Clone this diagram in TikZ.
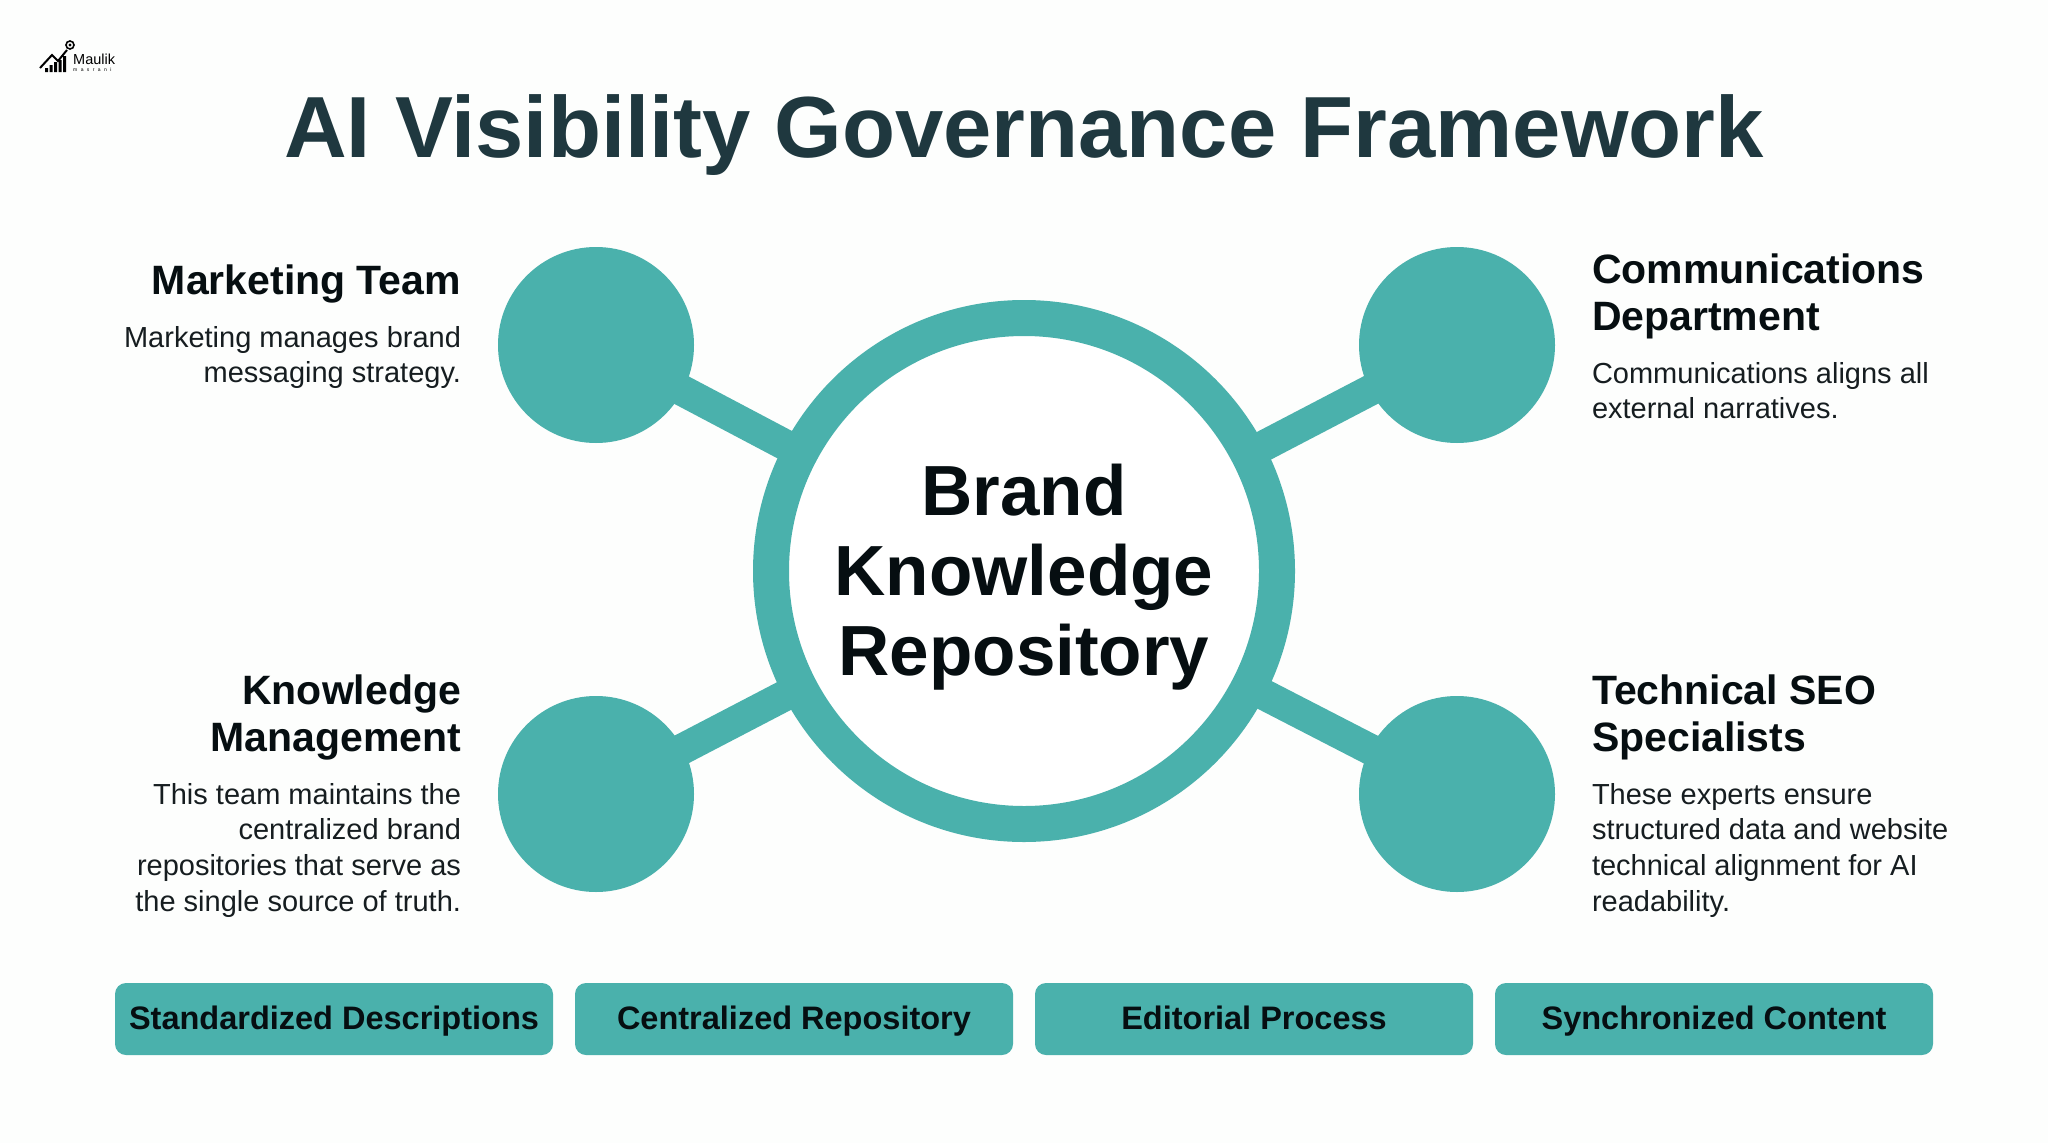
\documentclass[tikz,border=0pt]{standalone}
\usepackage{fontspec}
\setmainfont{Liberation Sans}
\definecolor{tealm}{HTML}{4AB1AC}
\definecolor{titlec}{HTML}{1F383F}
\definecolor{inkc}{HTML}{060E11}
\definecolor{bodyc}{HTML}{161D20}
\definecolor{bgc}{HTML}{FDFEFD}
\tikzset{
 sat/.style={circle,fill=tealm,minimum size=196pt,inner sep=0pt,outer sep=0pt},
 hub/.style={circle,draw=tealm,line width=36pt,fill=white,minimum size=506pt,inner sep=0pt,outer sep=0pt},
 link/.style={draw=tealm,line width=31pt,shorten <=-12pt},
 head/.style={inner sep=0pt,outer sep=0pt,text=inkc,font=\bfseries\fontsize{41}{47}\selectfont},
 txt/.style={inner sep=0pt,outer sep=0pt,text=bodyc,font=\fontsize{29}{35.7}\selectfont},
 pill/.style={rounded corners=11pt,fill=tealm,minimum width=438pt,minimum height=72pt,inner sep=0pt,outer sep=0pt,text=inkc,text height=30pt,text depth=10pt,font=\bfseries\fontsize{32.5}{40}\selectfont},
}
\begin{document}
\begin{tikzpicture}[x=1pt,y=-1pt]
\useasboundingbox[fill=bgc] (0,0) rectangle (2048,1143);
% logo
\fill[black] (45,68) rectangle (48,72) (49.5,65) rectangle (52.5,72) (54,62) rectangle (57,72) (58.5,60) rectangle (61.5,72) (63,56) rectangle (66,72);
\draw[black,line width=2pt] (40,68) -- (52,55) -- (58,61) -- (67,50);
\draw[black,line width=1.6pt] (70,45) circle (4pt);
\fill[black] (70,45) circle (1.6pt);
\node[anchor=base west,inner sep=0pt,font=\fontsize{14.5}{16}\selectfont] (logoa) at (73,64) {Maulik};
\node[anchor=base west,inner sep=0pt,font=\fontsize{5}{6}\selectfont] (logob) at (73,71) {m\hspace{3.4pt}a\hspace{3.4pt}s\hspace{3.4pt}r\hspace{3.4pt}a\hspace{3.4pt}n\hspace{3.4pt}i};
% title
\node[anchor=base,inner sep=0pt,text=titlec,font=\bfseries\fontsize{86.8}{100}\selectfont] (title) at (1024,157) {AI Visibility Governance Framework};
% hub and satellites
\node[hub,align=center,text=inkc,font=\bfseries\fontsize{71}{80}\selectfont] (hubc) at (1024,571) {\rule{0pt}{64pt}Brand\\Knowledge\\Repository};
\node[sat] (tl) at (596,345) {};
\node[sat] (tr) at (1457,345) {};
\node[sat] (bl) at (596,794) {};
\node[sat] (br) at (1457,794) {};
\draw[link] (tl) -- (hubc);
\draw[link] (tr) -- (hubc);
\draw[link] (bl) -- (hubc);
\draw[link] (br) -- (hubc);
% left labels
\node[head,anchor=base east] (h1) at (461,294) {Marketing Team};
\node[txt,anchor=north east,align=right] (b1) at (461,326) {Marketing manages brand\\messaging strategy.};
\node[head,anchor=north east,align=right] (h3) at (461,675) {Knowledge\\Management};
\node[txt,anchor=north east,align=right] (b3) at (461,783) {This team maintains the\\centralized brand\\repositories that serve as\\the single source of truth.};
% right labels
\node[head,anchor=north west,align=left] (h2) at (1592,254) {Communications\\Department};
\node[txt,anchor=north west,align=left] (b2) at (1592,362) {Communications aligns all\\external narratives.};
\node[head,anchor=north west,align=left] (h4) at (1592,675) {Technical SEO\\Specialists};
\node[txt,anchor=north west,align=left] (b4) at (1592,783) {These experts ensure\\structured data and website\\technical alignment for AI\\readability.};
% bottom
\node[pill] (p1) at (334,1019) {Standardized Descriptions};
\node[pill] (p2) at (794,1019) {Centralized Repository};
\node[pill] (p3) at (1254,1019) {Editorial Process};
\node[pill] (p4) at (1714,1019) {Synchronized Content};
\end{tikzpicture}
\end{document}
